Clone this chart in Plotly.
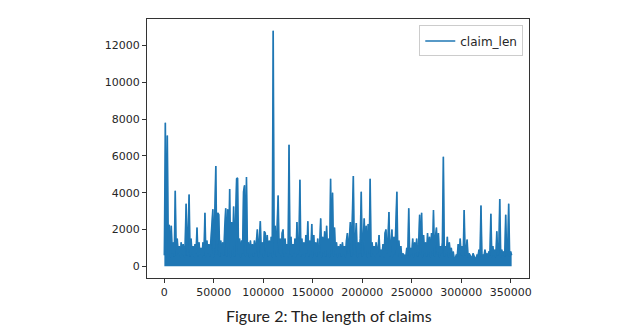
import plotly.graph_objects as go

# Index of each sampled claim (every 1000th row of the dataframe)
claim_index = list(range(0, 352000, 1000))

claim_len = [
    600, 7800, 500, 7100, 650, 2250, 500, 2200, 700, 1300,      # 0k
    550, 4100, 600, 1500, 700, 1100, 500, 1300, 650, 1200,      # 10k
    500, 1200, 3400, 600, 1900, 3900, 550, 1500, 650, 1100,     # 20k
    500, 1200, 700, 2100, 550, 1300, 650, 1000, 500, 1300,      # 30k
    600, 2900, 500, 1400, 700, 1200, 550, 1300, 2000, 3100,     # 40k
    500, 2500, 5450, 650, 2900, 2800, 550, 1400, 700, 1300,     # 50k
    600, 2100, 3150, 550, 3100, 700, 4200, 500, 2400, 650,      # 60k
    3250, 550, 2800, 4750, 4800, 650, 1500, 500, 1400, 700,     # 70k
    4050, 4400, 550, 4850, 700, 1300, 500, 1400, 650, 1200,     # 80k
    550, 1400, 700, 1200, 2000, 500, 1800, 2450, 650, 1300,     # 90k
    500, 1900, 1800, 650, 1700, 550, 1400, 700, 1600, 500,      # 100k
    12800, 650, 2200, 550, 2200, 3850, 700, 1500, 500, 1800,    # 110k
    2000, 550, 1500, 700, 1200, 500, 6600, 650, 1600, 550,      # 120k
    1200, 700, 1500, 500, 2400, 650, 1200, 4700, 550, 1500,     # 130k
    650, 1300, 500, 1700, 700, 2450, 550, 1400, 650, 2300,      # 140k
    500, 1700, 700, 1300, 550, 1500, 650, 1200, 2600, 500,      # 150k
    1600, 700, 1900, 550, 2200, 650, 1500, 500, 4750, 700,      # 160k
    4000, 550, 2100, 650, 1300, 500, 1100, 700, 1200, 550,      # 170k
    1300, 650, 1100, 500, 1400, 1800, 700, 1500, 2400, 550,     # 180k
    3300, 4900, 650, 1700, 2350, 500, 1300, 700, 1500, 4050,    # 190k
    550, 1500, 2600, 650, 2200, 500, 2300, 700, 4750, 550,      # 200k
    1300, 650, 1100, 500, 1300, 700, 1000, 1700, 550, 900,      # 210k
    650, 1200, 500, 1800, 2000, 700, 1500, 2950, 550, 1200,     # 220k
    2000, 500, 1600, 650, 3000, 4050, 550, 1400, 700, 1100,     # 230k
    500, 700, 600, 600, 450, 1000, 600, 3150, 500, 1000,        # 240k
    650, 1500, 500, 1300, 700, 1500, 550, 1200, 2800, 650,      # 250k
    2900, 500, 1700, 700, 1300, 550, 1800, 650, 1600, 500,      # 260k
    1800, 700, 3050, 550, 1600, 2100, 650, 1800, 500, 1100,     # 270k
    700, 1300, 5950, 550, 1100, 650, 1600, 500, 1300, 700,      # 280k
    1000, 550, 800, 350, 450, 600, 550, 1200, 500, 1500,        # 290k
    600, 1100, 500, 3050, 600, 900, 1450, 500, 700, 550,        # 300k
    500, 450, 700, 550, 400, 450, 600, 550, 900, 500,           # 310k
    3300, 550, 600, 500, 900, 600, 700, 500, 800, 600,          # 320k
    2850, 500, 1100, 600, 900, 500, 1900, 600, 800, 3650,       # 330k
    500, 900, 600, 800, 550, 2800, 600, 900, 3400, 550,         # 340k
    800, 600,                                                   # 350k
]

series_name = "claim_len"
caption = "Figure 2: The length of claims"

line_color = "#1f77b4"
axis_color = "#333333"

fig = go.Figure()

# dense band (fill under the series, hidden from legend)
fig.add_trace(go.Scatter(
    x=claim_index, y=claim_len, mode="lines",
    line=dict(color=line_color, width=0.5),
    fill="tozeroy", fillcolor=line_color,
    showlegend=False, hoverinfo="skip",
))
# the line itself
fig.add_trace(go.Scatter(
    x=claim_index, y=claim_len, mode="lines",
    name=series_name,
    line=dict(color=line_color, width=1.6),
))

axis_common = dict(
    showline=True, linecolor=axis_color, linewidth=1, mirror=True,
    ticks="outside", ticklen=4, tickwidth=1, tickcolor=axis_color,
    showgrid=False, zeroline=False,
    tickfont=dict(family="DejaVu Sans", size=11, color="#262626"),
    tickformat="d",
)

# the page body has an 8px default margin, so the figure is 8px smaller
W, H = 632, 325
ML, MR, MT, MB = 139, 111, 11, 55
plot_h = H - MT - MB

fig.update_layout(
    width=W, height=H,
    paper_bgcolor="white", plot_bgcolor="white",
    margin=dict(l=ML, r=MR, t=MT, b=MB),
    xaxis=dict(range=[-17550, 368550], dtick=50000, tick0=0, **axis_common),
    yaxis=dict(range=[-640, 13440], dtick=2000, tick0=0, **axis_common),
    legend=dict(
        x=0.985, y=0.975, xanchor="right", yanchor="top",
        bgcolor="white", bordercolor="#cccccc", borderwidth=1,
        font=dict(family="DejaVu Sans", size=12, color="#262626"),
        itemwidth=30,
    ),
    annotations=[dict(
        text=caption, xref="paper", yref="paper",
        x=(321 - ML) / (W - ML - MR), y=-(296 - (MT + plot_h)) / plot_h,
        xanchor="center", yanchor="top",
        showarrow=False,
        font=dict(family="Lato", size=16, color="#222222"),
    )],
)

fig.write_html("out.html")
